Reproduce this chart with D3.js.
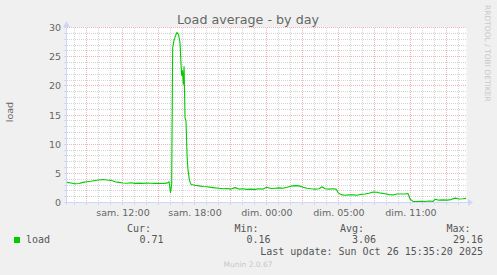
<!DOCTYPE html>
<html>
<head>
<meta charset="utf-8">
<script src="https://cdn.jsdelivr.net/npm/d3@7"></script>
<style>
  html, body { margin: 0; padding: 0; background: #f0f0f0; }
  svg { display: block; }
  text { font-family: "DejaVu Sans", sans-serif; fill: #666; }
  .mono { font-family: "DejaVu Sans Mono", monospace; fill: #555; }
</style>
</head>
<body>
<div id="chart"></div>
<script>
// time in hours since saturday 00:00, load average values
const hours = [7.37, 7.71, 8.04, 8.38, 8.71, 9.04, 9.38, 9.71, 10.04, 10.38, 10.71, 11.04, 11.38, 11.71,
  12.04, 12.38, 12.71, 13.04, 13.38, 13.71, 14.04, 14.38, 14.71, 15.04, 15.38, 15.71, 15.88, 16.0,
  16.1, 16.18, 16.29, 16.42, 16.54, 16.67, 16.79, 16.88, 16.93, 17.0, 17.07, 17.13, 17.21, 17.29,
  17.38, 17.46, 17.58, 17.71, 18.04, 18.38, 18.71, 19.04, 19.38, 19.71, 20.04, 20.38, 20.71, 21.04,
  21.38, 21.71, 22.04, 22.38, 22.71, 23.04, 23.38, 23.71, 24.04, 24.38, 24.71, 25.04, 25.38, 25.71,
  26.04, 26.38, 26.71, 27.04, 27.38, 27.71, 28.04, 28.38, 28.63, 28.88, 29.21, 29.54, 29.79, 29.96,
  30.21, 30.54, 30.88, 31.21, 31.54, 31.88, 32.21, 32.54, 32.88, 33.21, 33.54, 33.88, 34.21, 34.54,
  34.88, 35.21, 35.54, 35.79, 35.96, 36.21, 36.54, 36.88, 37.21, 37.54, 37.88, 38.04, 38.38, 38.71,
  39.04, 39.38, 39.71, 40.04, 40.38, 40.63]
const load = [3.45, 3.35, 3.22, 3.25, 3.45, 3.55, 3.65, 3.78, 3.85, 3.93, 3.85, 3.80, 3.55, 3.45,
  3.35, 3.30, 3.38, 3.28, 3.32, 3.28, 3.35, 3.30, 3.28, 3.30, 3.27, 3.32, 3.55, 1.7,
  3.2, 26.5, 27.8, 28.6, 29.16, 28.8, 27.5, 23.5, 21.8, 22.6, 20.3, 23.3, 14.5, 14.0,
  8.0, 5.5, 3.8, 3.1, 2.95, 2.85, 2.75, 2.7, 2.6, 2.5, 2.45, 2.35, 2.4, 2.3,
  2.55, 2.3, 2.35, 2.25, 2.3, 2.25, 2.35, 2.3, 2.6, 2.4, 2.45, 2.5, 2.45, 2.6,
  2.8, 2.9, 2.85, 2.6, 2.45, 2.35, 2.3, 2.35, 2.7, 2.35, 2.3, 2.35, 2.3, 1.7,
  1.35, 1.25, 1.3, 1.3, 1.25, 1.4, 1.45, 1.6, 1.8, 1.75, 1.6, 1.5, 1.35, 1.3,
  1.45, 1.45, 1.45, 1.55, 0.6, 0.2, 0.16, 0.2, 0.18, 0.25, 0.2, 0.55, 0.4, 0.45,
  0.4, 0.5, 0.75, 0.6, 0.65, 0.71]

const tickHours = [12, 18, 24, 30, 36]
const tickLabels = ['sam. 12:00', 'sam. 18:00', 'dim. 00:00', 'dim. 05:00', 'dim. 11:00']
const yTicks = [0, 5, 10, 15, 20, 25, 30]
const statNames = ['Cur:', 'Min:', 'Avg:', 'Max:']
const statValues = ['0.71', '0.16', '3.06', '29.16']

const width = 497, height = 275
const startHour = 7.333, endHour = startHour + 400 / 12

const svg = d3.select('#chart')
    .append('svg')
        .attr('width', width)
        .attr('height', height)

svg.append('rect').attr('width', width).attr('height', height).attr('fill', '#f0f0f0')

const x = d3.scaleLinear().domain([startHour, endHour]).range([66.5, 466.5])
const y = d3.scaleLinear().domain([0, 30]).range([202.5, 27.5])
const ry = v => Math.round(y(v) - 0.5) + 0.5
const rx = h => Math.round(x(h) - 0.5) + 0.5

// canvas
svg.append('rect')
    .attr('x', 66.5).attr('y', 27.5)
    .attr('width', 400).attr('height', 175)
    .attr('fill', '#fff')

// grid: minor every hour / every unit, major every 3 hours / 5 units
const minorH = d3.range(Math.ceil(startHour), endHour, 1)
const majorH = minorH.filter(h => h % 3 === 0)
const minorV = d3.range(1, 31).filter(v => v % 5 !== 0)
const majorV = yTicks.filter(v => v > 0)

const grid = svg.append('g').attr('shape-rendering', 'crispEdges')
grid.selectAll('.vmin').data(minorH.filter(h => h % 3 !== 0)).enter().append('line')
    .attr('x1', rx).attr('x2', rx).attr('y1', 27.5).attr('y2', 202.5)
    .attr('stroke', '#d4d4d4').attr('stroke-dasharray', '1,1')
grid.selectAll('.hmin').data(minorV).enter().append('line')
    .attr('x1', 66.5).attr('x2', 466.5).attr('y1', ry).attr('y2', ry)
    .attr('stroke', '#d4d4d4').attr('stroke-dasharray', '1,1')
grid.selectAll('.vmaj').data(majorH).enter().append('line')
    .attr('x1', rx).attr('x2', rx).attr('y1', 27.5).attr('y2', 202.5)
    .attr('stroke', '#f2b6b6').attr('stroke-dasharray', '1,1')
grid.selectAll('.hmaj').data(majorV).enter().append('line')
    .attr('x1', 66.5).attr('x2', 466.5).attr('y1', ry).attr('y2', ry)
    .attr('stroke', '#f2b6b6').attr('stroke-dasharray', '1,1')

// axes with arrows
const axisColor = '#cfd6f8'
grid.append('line').attr('x1', 64).attr('x2', 468).attr('y1', 202.5).attr('y2', 202.5).attr('stroke', axisColor)
grid.append('line').attr('x1', 66.5).attr('x2', 66.5).attr('y1', 205).attr('y2', 25).attr('stroke', axisColor)
grid.selectAll('.xt').data(minorH).enter().append('line')
    .attr('x1', rx).attr('x2', rx).attr('y1', 202.5).attr('y2', 205)
    .attr('stroke', axisColor)
grid.selectAll('.yt').data(d3.range(0, 31)).enter().append('line')
    .attr('x1', 64).attr('x2', 66.5).attr('y1', ry).attr('y2', ry)
    .attr('stroke', axisColor)
svg.append('path').attr('d', 'M468,199 L473,202.5 L468,206 Z').attr('fill', axisColor)
svg.append('path').attr('d', 'M63,27 L66.5,21 L70,27 Z').attr('fill', axisColor)

// data line
const line = d3.line()
    .x(i => x(hours[i]))
    .y(i => y(load[i]))
svg.append('path')
    .datum(d3.range(hours.length))
    .attr('d', line)
    .attr('fill', 'none')
    .attr('stroke', '#00cc00')
    .attr('stroke-width', 1.1)
    .attr('stroke-linejoin', 'round')

// tick labels
svg.selectAll('.xl').data(tickHours).enter().append('text')
    .attr('x', h => x(h) + 0.5).attr('y', 216)
    .attr('text-anchor', 'middle')
    .style('font-size', '9.5px')
    .text((h, i) => tickLabels[i])
svg.selectAll('.yl').data(yTicks).enter().append('text')
    .attr('x', 61).attr('y', v => y(v) + 3.5)
    .attr('text-anchor', 'end')
    .style('font-size', '9.5px')
    .text(v => v)

// title and labels
svg.append('text').attr('x', 248).attr('y', 24)
    .attr('text-anchor', 'middle').style('font-size', '12.7px')
    .text('Load average - by day')
svg.append('text')
    .attr('transform', 'translate(12.5,112) rotate(-90)')
    .attr('text-anchor', 'middle').style('font-size', '9.5px')
    .text('load')
svg.append('text')
    .attr('transform', 'translate(485,5) rotate(90)')
    .style('font-size', '7.5px').style('fill', '#c8c8c8')
    .text('RRDTOOL / TOBI OETIKER')

// legend
svg.append('rect').attr('x', 14).attr('y', 237).attr('width', 6).attr('height', 6).attr('fill', '#00cc00')
svg.append('text').attr('class', 'mono').attr('x', 26).attr('y', 243).style('font-size', '10px').text('load')
const statHead = [151, 258.5, 364, 470.5]
const statEnd = [163.5, 270.5, 376, 483]
svg.selectAll('.sn').data(statNames).enter().append('text')
    .attr('class', 'mono').attr('x', (d, i) => statHead[i]).attr('y', 231.5)
    .attr('text-anchor', 'end').style('font-size', '10px')
    .text(d => d)
svg.selectAll('.sv').data(statValues).enter().append('text')
    .attr('class', 'mono').attr('x', (d, i) => statEnd[i]).attr('y', 243)
    .attr('text-anchor', 'end').style('font-size', '10px')
    .text(d => d)
svg.append('text').attr('class', 'mono').attr('x', 483).attr('y', 254.5)
    .attr('text-anchor', 'end').style('font-size', '10px')
    .text('Last update: Sun Oct 26 15:35:20 2025')
svg.append('text').attr('x', 248).attr('y', 267)
    .attr('text-anchor', 'middle').style('font-size', '7.5px').style('fill', '#c8c8c8')
    .text('Munin 2.0.67')
</script>
</body>
</html>
